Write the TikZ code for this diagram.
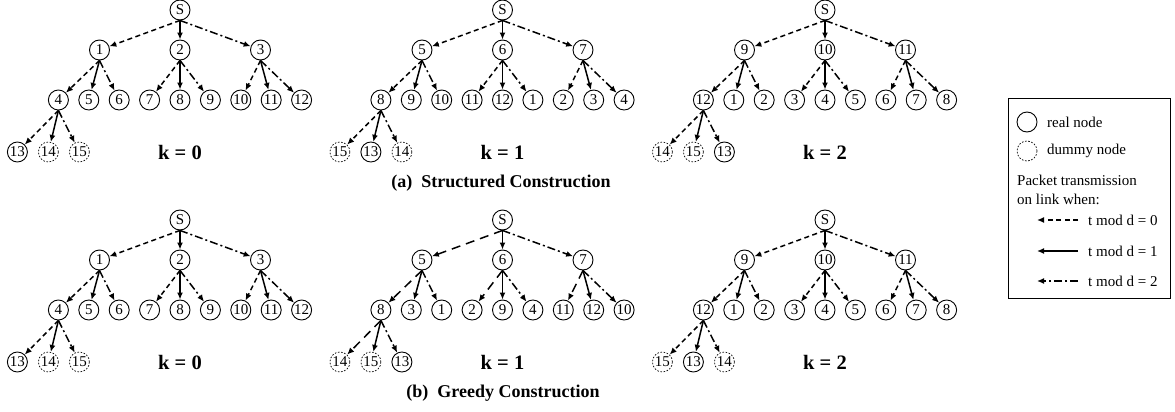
\documentclass[tikz,border=0pt]{standalone}
\usepackage{fontspec}
\setmainfont{Liberation Serif}
\usetikzlibrary{arrows.meta}

\tikzset{
  vtx/.style={circle, draw, line width=0.9pt, minimum size=20pt, inner sep=0pt,
    font=\fontsize{15}{15}\selectfont},
  realnd/.style={vtx},
  dummynd/.style={vtx, line width=0.7pt, dash pattern=on 1.6pt off 1.6pt},
  link/.style={line width=1.5pt, -{Latex[length=7pt,width=6pt]}},
  link1/.style={link, dash pattern=on 5pt off 3.5pt},
  link2/.style={link},
  link3/.style={link, dash pattern=on 8pt off 3pt on 2pt off 3pt},
  klabel/.style={font=\bfseries\fontsize{20.5}{20.5}\selectfont, inner sep=0pt},
  subcap/.style={font=\bfseries\fontsize{18}{18}\selectfont, inner sep=0pt},
  legtext/.style={font=\fontsize{15}{15}\selectfont, inner sep=0pt, anchor=west},
  legbox/.style={draw, line width=0.8pt, anchor=north west, inner sep=0pt},
}

% #1 name prefix, #2 root x, #3 root y,
% #4 level-1 labels, #5 level-2 labels, #6 level-3 label/style pairs
\newcommand{\drawtree}[6]{%
  \node[realnd] (#1S) at (#2,#3) {S};
  \foreach \lab [count=\i] in {#4}
    \node[realnd] (#1a\i) at ({#2+80.5*(\i-2)},{#3+40}) {\lab};
  \foreach \lab [count=\i] in {#5}
    \node[realnd] (#1b\i) at ({#2+30.4*(\i-5)},{#3+90}) {\lab};
  \foreach \lab/\kind [count=\i] in {#6}
    \node[\kind] (#1c\i) at ({#2-162.6+31*(\i-1)},{#3+142}) {\lab};
  \foreach \i in {1,2,3}
    \draw[link\i] (#1S.south) -- (#1a\i);
  \foreach \p in {1,2,3}
    \foreach \i in {1,2,3} {
      \pgfmathtruncatemacro\ch{3*(\p-1)+\i}
      \draw[link\i] (#1a\p.south) -- (#1b\ch);
    }
  \foreach \i in {1,2,3}
    \draw[link\i] (#1b1.south) -- (#1c\i);
}

\begin{document}
\begin{tikzpicture}[x=1pt,y=-1pt]
\useasboundingbox (0,0) rectangle (1175,412);

% (a) structured construction
\drawtree{ta0}{180}{10}{1,2,3}{4,5,6,7,8,9,10,11,12}{13/realnd,14/dummynd,15/dummynd}
\drawtree{ta1}{502.5}{10}{5,6,7}{8,9,10,11,12,1,2,3,4}{15/dummynd,13/realnd,14/dummynd}
\drawtree{ta2}{825}{10}{9,10,11}{12,1,2,3,4,5,6,7,8}{14/dummynd,15/dummynd,13/realnd}
\node[klabel] (ka0) at (180,152) {k = 0};
\node[klabel] (ka1) at (502.5,152) {k = 1};
\node[klabel] (ka2) at (825,152) {k = 2};
\node[subcap] (capa) at (501,183) {(a)\ \ Structured Construction};

% (b) greedy construction
\drawtree{tb0}{180}{220}{1,2,3}{4,5,6,7,8,9,10,11,12}{13/realnd,14/dummynd,15/dummynd}
\begin{scope}[link1/.style={link, dash pattern=on 9pt off 6pt}]
\drawtree{tb1}{502.5}{220}{5,6,7}{8,3,1,2,9,4,11,12,10}{14/dummynd,15/dummynd,13/realnd}
\end{scope}
\drawtree{tb2}{825}{220}{9,10,11}{12,1,2,3,4,5,6,7,8}{15/dummynd,13/realnd,14/dummynd}
\node[klabel] (kb0) at (180,362) {k = 0};
\node[klabel] (kb1) at (502.5,362) {k = 1};
\node[klabel] (kb2) at (825,362) {k = 2};
\node[subcap] (capb) at (503,393) {(b)\ \ Greedy Construction};

% legend
\node[legbox, minimum width=162pt, minimum height=200pt] (legend) at (1008,98) {};
\node[realnd] (lgreal) at (1027,122) {};
\node[legtext] (lgrealtxt) at (1047,122) {real node};
\node[dummynd] (lgdummy) at (1027,151) {};
\node[legtext] (lgdummytxt) at (1047,151) {dummy node};
\node[legtext] (lghead1) at (1017,180) {Packet transmission};
\node[legtext] (lghead2) at (1017,199) {on link when:};
\foreach \j/\yy in {0/220,1/251,2/281} {
  \pgfmathtruncatemacro\st{\j+1}
  \coordinate (lgfrom\j) at (1078,\yy);
  \coordinate (lgto\j) at (1037,\yy);
  \draw[link\st] (lgfrom\j) -- (lgto\j);
  \node[legtext] (lgtxt\j) at (1088,\yy) {t mod d = \j};
}
\end{tikzpicture}
\end{document}
